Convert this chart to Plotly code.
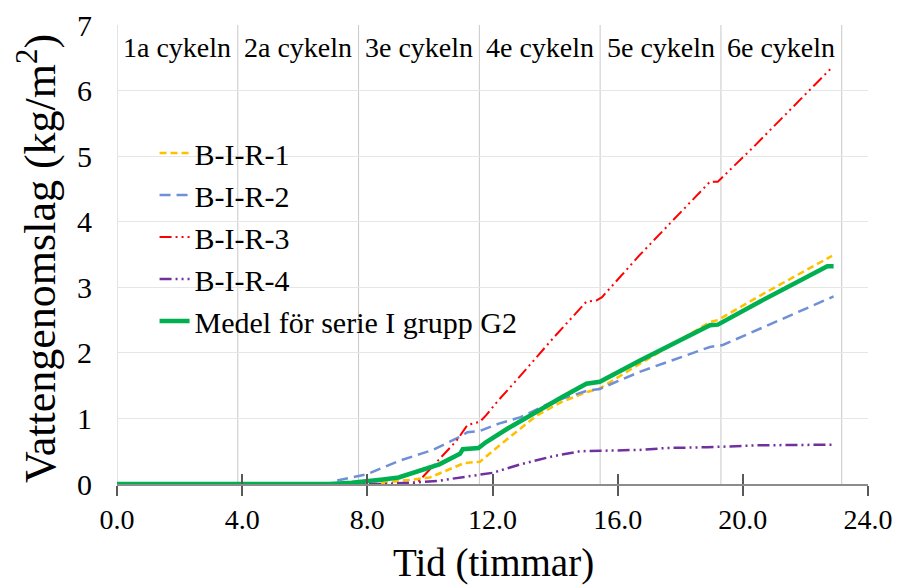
import plotly.graph_objects as go

# ---- data ----
t_r1 = [0, 8.0, 8.5, 9.0, 9.5, 10.0, 10.5, 10.9, 11.1, 11.6, 11.8, 12.2, 13.4, 14.2, 15.0, 15.4, 16.7, 18.95, 19.2, 20.54, 22.85]
v_r1 = [0, 0.0, 0.02, 0.04, 0.07, 0.10, 0.20, 0.28, 0.32, 0.34, 0.42, 0.58, 1.04, 1.25, 1.40, 1.45, 1.83, 2.47, 2.50, 2.87, 3.48]

t_r2 = [0, 6.8, 7.0, 7.5, 8.0, 8.5, 9.0, 9.7, 10.1, 10.96, 11.2, 11.6, 12.2, 12.9, 13.9, 15.0, 15.43, 16.7, 18.95, 19.36, 20.54, 22.9]
v_r2 = [0, 0.0, 0.05, 0.10, 0.15, 0.25, 0.35, 0.46, 0.52, 0.72, 0.79, 0.81, 0.92, 1.02, 1.25, 1.42, 1.45, 1.71, 2.09, 2.12, 2.37, 2.86]

t_r3 = [0, 9.4, 9.6, 9.8, 10.3, 10.85, 11.2, 11.6, 11.8, 12.14, 12.8, 13.93, 15.0, 15.33, 15.5, 16.7, 18.95, 19.2, 20.3, 22.8]
v_r3 = [0, 0.0, 0.02, 0.12, 0.38, 0.66, 0.90, 0.95, 1.05, 1.25, 1.60, 2.22, 2.78, 2.80, 2.85, 3.49, 4.61, 4.61, 5.12, 6.33]

t_r4 = [0, 8.5, 9.4, 9.7, 10.3, 10.7, 11.5, 12.0, 12.9, 13.9, 14.8, 15.5, 16.7, 17.6, 18.85, 20.5, 22.9]
v_r4 = [0, 0.0, 0.02, 0.03, 0.05, 0.08, 0.14, 0.17, 0.30, 0.42, 0.50, 0.51, 0.52, 0.55, 0.56, 0.59, 0.60]

t_mean = [0, 6.8, 7.5, 8.0, 8.5, 9.0, 9.7, 10.3, 10.96, 11.05, 11.55, 11.8, 12.5, 13.5, 14.2, 15.0, 15.43, 16.7, 18.95, 19.2, 20.54, 22.7, 22.9]
v_mean = [0, 0.0, 0.02, 0.04, 0.07, 0.10, 0.20, 0.30, 0.46, 0.53, 0.55, 0.64, 0.85, 1.13, 1.32, 1.53, 1.56, 1.88, 2.42, 2.43, 2.78, 3.32, 3.32]

series_names = ["B-I-R-1", "B-I-R-2", "B-I-R-3", "B-I-R-4", "Medel för serie I grupp G2"]

cycle_bounds = [0, 3.86, 7.72, 11.58, 15.44, 19.30, 23.16]
cycle_labels = ["1a cykeln", "2a cykeln", "3e cykeln", "4e cykeln", "5e cykeln", "6e cykeln"]
cycle_label_y = 6.66

x_ticks = [0, 4, 8, 12, 16, 20, 24]
x_ticktext = ["0.0", "4.0", "8.0", "12.0", "16.0", "20.0", "24.0"]
y_ticks = [0, 1, 2, 3, 4, 5, 6, 7]

x_title = "Tid (timmar)"
y_title = "Vattengenomslag (kg/m<sup>2</sup>)"

FONT = "Liberation Serif"

styles = [
    dict(color="#FFC000", width=2.5, dash="7px,4px"),
    dict(color="#6F90D6", width=2.5, dash="11px,6px"),
    dict(color="#FF0000", width=2, dash="12px,4px,2px,4px,2px,4px"),
    dict(color="#7030A0", width=2.5, dash="12px,4px,2px,4px,2px,4px"),
    dict(color="#00B050", width=4.5, dash="solid"),
]
data = [(t_r1, v_r1), (t_r2, v_r2), (t_r3, v_r3), (t_r4, v_r4), (t_mean, v_mean)]

fig = go.Figure()
for (tx, vy), name, st in zip(data, series_names, styles):
    fig.add_trace(go.Scatter(x=tx, y=vy, mode="lines", name=name, line=st))

# invisible trace on overlay axis to host inside tick marks
fig.add_trace(go.Scatter(x=[0, 24], y=[0, 0], xaxis="x2", mode="lines",
                         line=dict(width=0), showlegend=False, hoverinfo="skip"))

shapes = []
for b in cycle_bounds:
    shapes.append(dict(type="line", xref="x", yref="y", x0=b, x1=b, y0=0, y1=7,
                       line=dict(color="#C8C8C8", width=1), layer="below"))

annotations = []
for i, lab in enumerate(cycle_labels):
    annotations.append(dict(x=(cycle_bounds[i] + cycle_bounds[i + 1]) / 2, y=cycle_label_y,
                            xref="x", yref="y", text=lab, showarrow=False,
                            font=dict(family=FONT, size=28, color="#000000")))
# axis titles
annotations.append(dict(x=0.501, y=-0.172, xref="paper", yref="paper", text=x_title,
                        showarrow=False, xanchor="center", yanchor="middle",
                        font=dict(family=FONT, size=39, color="#000000")))
annotations.append(dict(x=-0.1065, y=0.49, xref="paper", yref="paper", text=y_title,
                        showarrow=False, xanchor="center", yanchor="middle", textangle=-90,
                        font=dict(family=FONT, size=44, color="#000000")))

fig.update_layout(
    width=903, height=586,
    margin=dict(l=117, r=35, t=25, b=102),
    paper_bgcolor="white", plot_bgcolor="white",
    font=dict(family=FONT, color="#000000"),
    shapes=shapes, annotations=annotations,
    showlegend=True,
    legend=dict(x=0.05, y=0.778, xanchor="left", yanchor="top",
                font=dict(family=FONT, size=30, color="#000000"),
                bgcolor="rgba(0,0,0,0)", borderwidth=0, tracegroupgap=0),
    xaxis=dict(range=[0, 24], tickvals=x_ticks, ticktext=x_ticktext, automargin=False,
               showgrid=False, zeroline=False, showline=True, linecolor="#8C8C8C", linewidth=1.5,
               ticks="outside", ticklen=10, tickwidth=1.5, tickcolor="#595959",
               tickfont=dict(family=FONT, size=28, color="#000000")),
    xaxis2=dict(range=[0, 24], overlaying="x", anchor="y", side="bottom", automargin=False,
                tickvals=x_ticks, showticklabels=False, showgrid=False, zeroline=False,
                showline=False, ticks="inside", ticklen=10, tickwidth=1.5, tickcolor="#595959"),
    yaxis=dict(range=[0, 7], tickvals=y_ticks, showgrid=True, gridcolor="#E6E6E6", gridwidth=1,
               zeroline=False, showline=False, ticks="", ticklabelstandoff=24, automargin=False,
               tickfont=dict(family=FONT, size=30, color="#000000")),
)

fig.write_html("out.html")
